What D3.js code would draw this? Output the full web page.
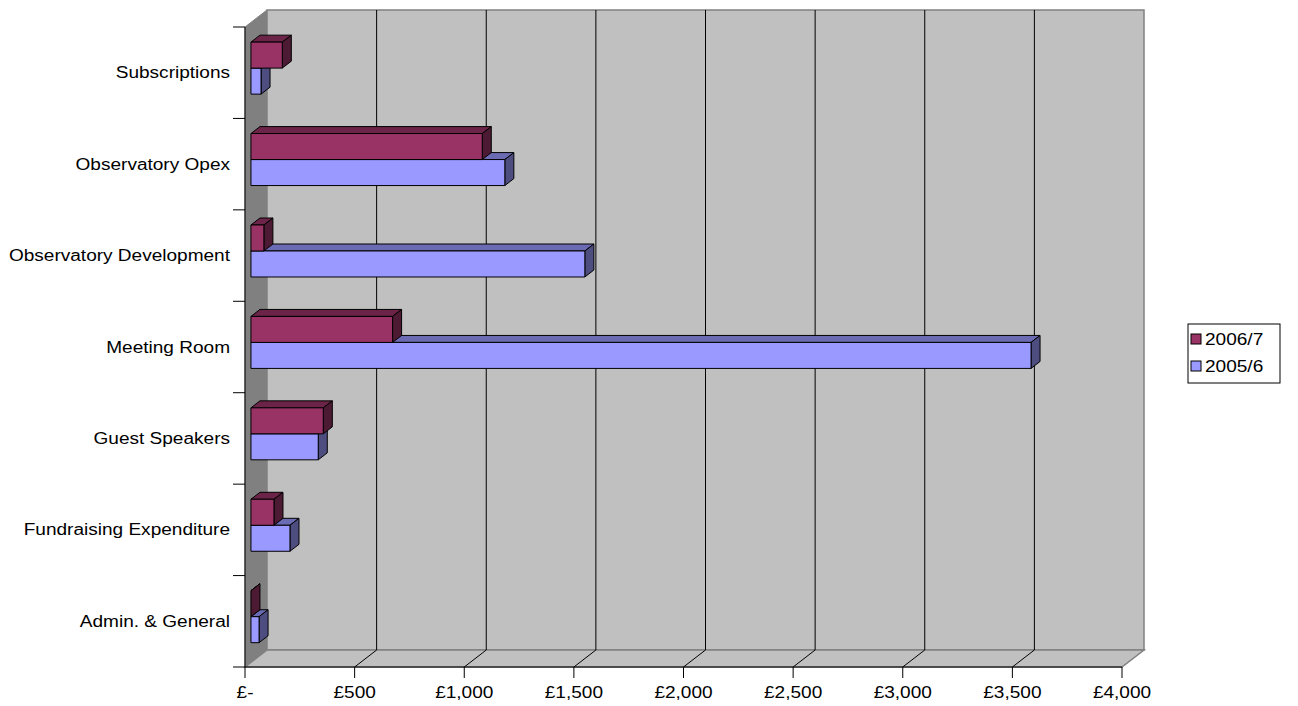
<!DOCTYPE html>
<html>
<head>
<meta charset="utf-8">
<script src="https://cdn.jsdelivr.net/npm/d3@7"></script>
<style>
  body { margin: 0; background: #fff; }
  text { font-family: "Liberation Sans", Arial, sans-serif; fill: #000; }
</style>
</head>
<body>
<div id="okvir"></div>
<script>
// podaci
const kategorije = ["Subscriptions", "Observatory Opex", "Observatory Development", "Meeting Room",
  "Guest Speakers", "Fundraising Expenditure", "Admin. & General"]
const serije = ["2006/7", "2005/6"]
const vrijednosti2006 = [143, 1055, 59, 646, 330, 105, 0]
const vrijednosti2005 = [46, 1158, 1523, 3558, 307, 178, 37]
const xTickovi = [0, 500, 1000, 1500, 2000, 2500, 3000, 3500, 4000]
const xOznake = ["£-", "£500", "£1,000", "£1,500", "£2,000", "£2,500", "£3,000", "£3,500", "£4,000"]

const boje = {
  "2006/7": { front: "#993366", top: "#6b2447", side: "#4d1a33" },
  "2005/6": { front: "#9999ff", top: "#6b6bb3", side: "#4d4d80" },
}

const dimenzije = { sirina: 1298, visina: 706, lijevo: 245, desno: 1122, gore: 27, dolje: 667 }
// dubina 3d prikaza
const dub = { dx: 22, dy: -17 }
const zPrednja = 0.27, zStraznja = 0.68

const proj = (x, y, z) => [x + z * dub.dx, y + z * dub.dy]

const svg = d3.select("#okvir").append("svg")
  .attr("width", dimenzije.sirina)
  .attr("height", dimenzije.visina)

const xSkala = d3.scaleLinear().domain([0, 4000]).range([dimenzije.lijevo, dimenzije.desno])
const ySkala = d3.scaleBand().domain(kategorije).range([dimenzije.gore, dimenzije.dolje]).padding(0)
const serijaSkala = d3.scaleBand().domain(serije).range([0, ySkala.bandwidth()]).paddingOuter(0.758).paddingInner(0)

const poly = pts => pts.map(p => p.join(",")).join(" ")

// zidovi
const L = dimenzije.lijevo, R = dimenzije.desno, T = dimenzije.gore, B = dimenzije.dolje
svg.append("polygon")
  .attr("points", poly([proj(L, T, 0), proj(L, T, 1), proj(L, B, 1), proj(L, B, 0)]))
  .attr("fill", "#808080").attr("stroke", "#808080")
svg.append("polygon")
  .attr("points", poly([proj(L, T, 1), proj(R, T, 1), proj(R, B, 1), proj(L, B, 1)]))
  .attr("fill", "#c0c0c0").attr("stroke", "#808080").attr("stroke-width", 1.5)
svg.append("polygon")
  .attr("points", poly([proj(L, B, 0), proj(L, B, 1), proj(R, B, 1), proj(R, B, 0)]))
  .attr("fill", "#c0c0c0").attr("stroke", "#808080").attr("stroke-width", 1.5)

// mreza
const mreza = svg.append("g")
xTickovi.slice(1, -1).forEach(v => {
  const x = xSkala(v)
  const a = proj(x, T, 1), b = proj(x, B, 1), c = proj(x, B, 0)
  mreza.append("polyline")
    .attr("points", poly([a, b, c]))
    .attr("fill", "none").attr("stroke", "#000").attr("stroke-width", 1)
})

// stupci
const stupci = svg.append("g")
kategorije.forEach((k, i) => {
  const redoslijed = [["2005/6", vrijednosti2005[i]], ["2006/7", vrijednosti2006[i]]]
  redoslijed.forEach(([s, v]) => {
    const y0 = ySkala(k) + serijaSkala(s)
    const y1 = y0 + serijaSkala.bandwidth()
    const x0 = xSkala(0), x1 = xSkala(v)
    const f = (x, y) => proj(x, y, zPrednja)
    const b = (x, y) => proj(x, y, zStraznja)
    const g = stupci.append("g").attr("stroke", "#000").attr("stroke-width", 1).attr("stroke-linejoin", "round")
    g.append("polygon")
      .attr("points", poly([f(x0, y0), b(x0, y0), b(x1, y0), f(x1, y0)]))
      .attr("fill", boje[s].top)
    g.append("polygon")
      .attr("points", poly([f(x1, y0), b(x1, y0), b(x1, y1), f(x1, y1)]))
      .attr("fill", boje[s].side)
    if (v > 0) {
      g.append("polygon")
        .attr("points", poly([f(x0, y0), f(x1, y0), f(x1, y1), f(x0, y1)]))
        .attr("fill", boje[s].front)
    }
  })
})

// osi
const osi = svg.append("g").attr("stroke", "#000").attr("stroke-width", 1)
osi.append("line").attr("x1", L).attr("x2", L).attr("y1", T).attr("y2", B)
osi.append("line").attr("x1", L).attr("x2", R).attr("y1", B).attr("y2", B)
ySkala.domain().concat([null]).forEach((k, i) => {
  const y = T + i * ySkala.step()
  osi.append("line").attr("x1", L - 12).attr("x2", L).attr("y1", y).attr("y2", y)
})
xTickovi.forEach(v => {
  osi.append("line").attr("x1", xSkala(v)).attr("x2", xSkala(v)).attr("y1", B).attr("y2", B + 11)
})

const sx = 1.19
// oznake kategorija
svg.append("g").selectAll("text")
  .data(kategorije)
  .join("text")
    .attr("transform", d => `translate(230, ${ySkala(d) + ySkala.bandwidth() / 2}) scale(${sx},1)`)
    .attr("text-anchor", "end")
    .attr("dy", "0.35em")
    .style("font-size", "16px")
    .text(d => d)

// oznake x osi
svg.append("g").selectAll("text")
  .data(xTickovi)
  .join("text")
    .attr("transform", d => `translate(${xSkala(d)}, 698) scale(${sx},1)`)
    .attr("text-anchor", "middle")
    .style("font-size", "16px")
    .text((d, i) => xOznake[i])

// legenda
const legenda = svg.append("g").attr("transform", "translate(1188, 324)")
legenda.append("rect")
  .attr("width", 92).attr("height", 59)
  .attr("fill", "#fff").attr("stroke", "#000")
serije.forEach((s, i) => {
  legenda.append("rect")
    .attr("x", 3).attr("y", 10 + i * 27)
    .attr("width", 10).attr("height", 10)
    .attr("fill", boje[s].front).attr("stroke", "#000")
  legenda.append("text")
    .attr("transform", `translate(17, ${21 + i * 27}) scale(${sx},1)`)
    .style("font-size", "16px")
    .text(s)
})
</script>
</body>
</html>
